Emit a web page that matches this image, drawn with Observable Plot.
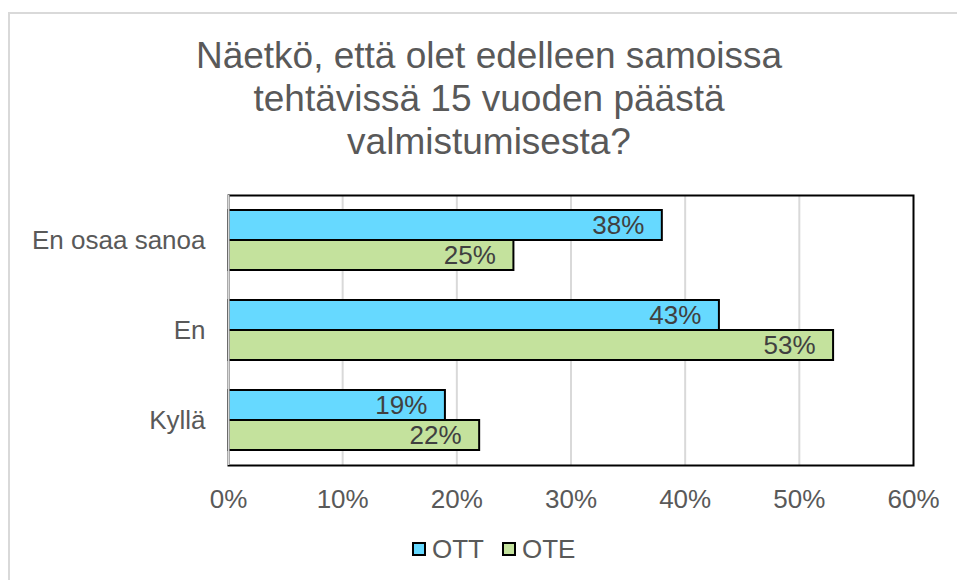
<!DOCTYPE html>
<html>
<head>
<meta charset="utf-8">
<script src="https://cdn.jsdelivr.net/npm/d3@7"></script>
<script src="https://cdn.jsdelivr.net/npm/@observablehq/plot@0.6"></script>
<style>
  body { margin: 0; background: #fff; font-family: Arial, "Liberation Sans", sans-serif; }
  #wrap { position: relative; width: 957px; height: 580px; overflow: hidden; background: #fff; }
  #border { position: absolute; left: 8px; top: 12px; width: 1000px; height: 700px; border: 2px solid #d9d9d9; box-sizing: border-box; }
  #title { position: absolute; left: 0; top: 34px; width: 978px; text-align: center; font-size: 37px; line-height: 43px; color: #595959; }
  #chart { position: absolute; left: 0; top: 180px; }
  #legend { position: absolute; left: 412px; top: 536px; display: flex; align-items: center; font-size: 26px; line-height: 26px; color: #595959; }
  .sw { width: 10px; height: 10px; border: 2px solid #000; margin-right: 6px; }
  .item { display: flex; align-items: center; }
</style>
</head>
<body>
<div id="wrap">
  <div id="border"></div>
  <div id="title">Näetkö, että olet edelleen samoissa<br>tehtävissä 15 vuoden päästä<br>valmistumisesta?</div>
  <div id="chart"></div>
  <div id="legend"></div>
</div>
<script>
const categories = ["En osaa sanoa", "En", "Kyllä"];
const series = ["OTT", "OTE"];
const ottValues = [38, 43, 19];
const oteValues = [25, 53, 22];
const ticks = [0, 10, 20, 30, 40, 50, 60];
const colors = ["#66D9FF", "#C4E29D"];

const data = categories.flatMap((c, i) => [
  {category: c, series: "OTT", value: ottValues[i]},
  {category: c, series: "OTE", value: oteValues[i]}
]);
const gridTicks = ticks.filter(t => t > ticks[0] && t < ticks[ticks.length - 1]);

const chart = Plot.plot({
  width: 957,
  height: 340,
  marginTop: 15,
  marginBottom: 55,
  marginLeft: 228,
  marginRight: 44,
  style: {fontFamily: "Arial, 'Liberation Sans', sans-serif", fontSize: "26px", color: "#595959", background: "transparent", overflow: "visible"},
  x: {domain: [0, 60], ticks: ticks, tickFormat: d => d + "%", tickSize: 0, tickPadding: 24, label: null},
  y: {domain: series, axis: null, paddingInner: 0, paddingOuter: 0.5},
  fy: {domain: categories, axis: "left", label: null, tickSize: 0, tickPadding: 23, padding: 0},
  color: {domain: series, range: colors},
  marks: [
    Plot.ruleX(gridTicks, {stroke: "#d9d9d9", strokeWidth: 2}),
    Plot.barX(data, {x: "value", y: "series", fy: "category", fill: "series", stroke: "#000", strokeWidth: 2}),
    Plot.text(data, {x: "value", y: "series", fy: "category", text: d => d.value + "%", textAnchor: "end", dx: -18, fontSize: 26, fill: "#404040"}),
    Plot.frame({facet: "super", stroke: "#000", strokeWidth: 2}),
    Plot.ruleX([0], {stroke: "#d9d9d9", strokeWidth: 2})
  ]
});
document.getElementById("chart").appendChild(chart);

const legend = document.getElementById("legend");
series.forEach((s, i) => {
  const item = document.createElement("div");
  item.className = "item";
  if (i > 0) item.style.marginLeft = "18px";
  const sw = document.createElement("div");
  sw.className = "sw";
  sw.style.background = colors[i];
  const label = document.createElement("span");
  label.textContent = s;
  item.appendChild(sw);
  item.appendChild(label);
  legend.appendChild(item);
});
</script>
</body>
</html>
